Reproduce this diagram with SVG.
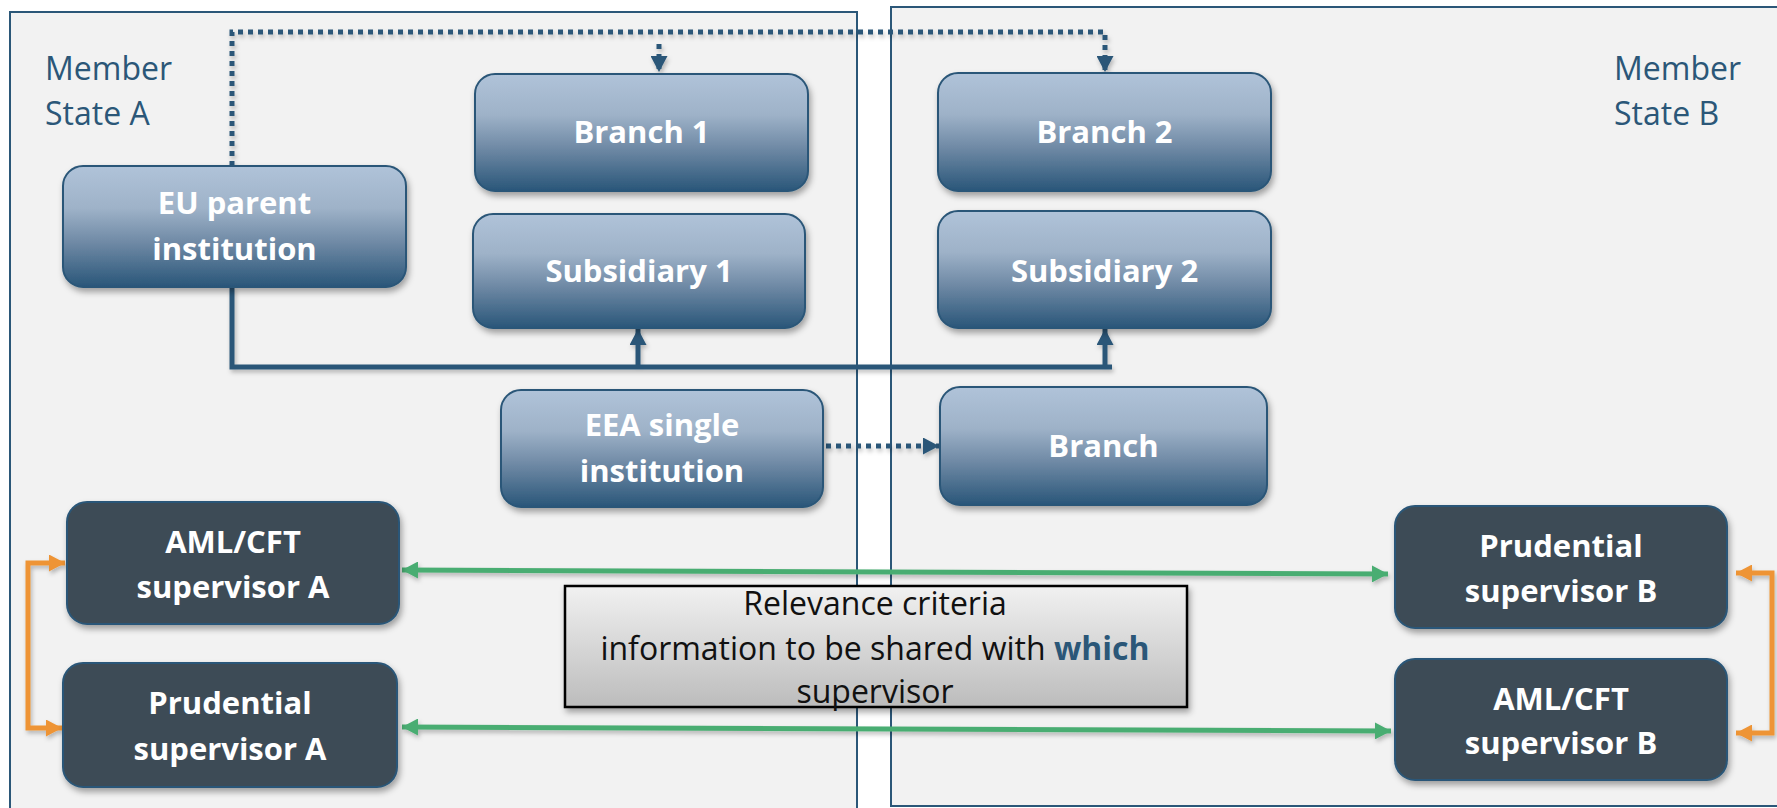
<svg xmlns="http://www.w3.org/2000/svg" width="1777" height="808" viewBox="0 0 1777 808">
  <defs>
    <linearGradient id="gBlue" x1="0" y1="0" x2="0" y2="1">
      <stop offset="0" stop-color="#b0c3d9"/>
      <stop offset="0.35" stop-color="#9eb2c8"/>
      <stop offset="0.65" stop-color="#6c87a3"/>
      <stop offset="1" stop-color="#295679"/>
    </linearGradient>
    <linearGradient id="gGray" x1="0" y1="0" x2="0" y2="1">
      <stop offset="0" stop-color="#f1f1f1"/>
      <stop offset="1" stop-color="#bcbcbc"/>
    </linearGradient>
    <filter id="sh" x="-10%" y="-10%" width="125%" height="130%">
      <feDropShadow dx="2" dy="4" stdDeviation="3" flood-color="#000" flood-opacity="0.35"/>
    </filter>
    <filter id="lsh" filterUnits="userSpaceOnUse" x="0" y="0" width="1777" height="808">
      <feDropShadow dx="1.5" dy="3" stdDeviation="2" flood-color="#000" flood-opacity="0.25"/>
    </filter>
    <marker id="aBlue" markerUnits="userSpaceOnUse" markerWidth="17" markerHeight="17" refX="16" refY="8.5" orient="auto">
      <path d="M0,0 L16,8.5 L0,17 z" fill="#2b5778"/>
    </marker>
    <marker id="aGreen" markerUnits="userSpaceOnUse" markerWidth="17" markerHeight="17" refX="16" refY="8.5" orient="auto-start-reverse">
      <path d="M0,0 L16,8.5 L0,17 z" fill="#4aad72"/>
    </marker>
    <marker id="aOrange" markerUnits="userSpaceOnUse" markerWidth="17" markerHeight="17" refX="16" refY="8.5" orient="auto-start-reverse">
      <path d="M0,0 L16,8.5 L0,17 z" fill="#ee9434"/>
    </marker>
    <style>
      .panel { fill: #f2f2f2; stroke: #2b5778; stroke-width: 2; }
      .state { font-family: "Open Sans", "Liberation Sans", sans-serif; font-size: 32px; fill: #2b5778; }
      .nb { fill: url(#gBlue); stroke: #2b5778; stroke-width: 2; filter: url(#sh); }
      .nd { fill: #3d4c56; stroke: #2b5778; stroke-width: 2; filter: url(#sh); }
      .nt { font-family: "Open Sans", "Liberation Sans", sans-serif; font-size: 31px; font-weight: bold; fill: #ffffff; text-anchor: middle; }
      .box { fill: url(#gGray); stroke: #000; stroke-width: 2.5; filter: url(#sh); }
      .bt { font-family: "Open Sans", "Liberation Sans", sans-serif; font-size: 32px; fill: #111; text-anchor: middle; }
      .hl { font-weight: bold; fill: #2b5778; }
      .solid { fill: none; stroke: #2b5778; stroke-width: 5; }
      .dot { fill: none; stroke: #2b5778; stroke-width: 5; stroke-dasharray: 5 5; }
      .green { fill: none; stroke: #4aad72; stroke-width: 5; }
      .orange { fill: none; stroke: #ee9434; stroke-width: 5; }
    </style>
  </defs>

  <rect x="0" y="0" width="1777" height="808" fill="#ffffff"/>

  <g id="member-state-a">
    <rect class="panel" x="10" y="12" width="847" height="830"/>
    <text class="state" x="45" y="80">Member</text>
    <text class="state" x="45" y="125">State A</text>
  </g>
  <g id="member-state-b">
    <rect class="panel" x="891" y="7" width="920" height="799"/>
    <text class="state" x="1614" y="80">Member</text>
    <text class="state" x="1614" y="125">State B</text>
  </g>

  <g id="connectors" filter="url(#lsh)">
    <path class="dot" d="M232,166 V32 H1105 V72" marker-end="url(#aBlue)"/>
    <path class="dot" d="M659,44 V72" marker-end="url(#aBlue)"/>
    <path class="solid" d="M232,287 V367 H1112"/>
    <path class="solid" d="M638,367 V329" marker-end="url(#aBlue)"/>
    <path class="solid" d="M1105,367 V329" marker-end="url(#aBlue)"/>
    <path class="dot" d="M826,446 H939" marker-end="url(#aBlue)"/>
    <path class="green" d="M402,570 L1388,574" marker-start="url(#aGreen)" marker-end="url(#aGreen)"/>
    <path class="green" d="M402,727 L1391,731" marker-start="url(#aGreen)" marker-end="url(#aGreen)"/>
    <path class="orange" d="M65,563 H28 V728 H62" marker-start="url(#aOrange)" marker-end="url(#aOrange)"/>
    <path class="orange" d="M1736,573 H1772 V733 H1736" marker-start="url(#aOrange)" marker-end="url(#aOrange)"/>
  </g>

  <g id="eu-parent">
    <rect class="nb" x="63" y="166" width="343" height="121" rx="20"/>
    <text class="nt" x="234.5" y="214">EU parent</text>
    <text class="nt" x="234.5" y="260">institution</text>
  </g>
  <g id="branch-1">
    <rect class="nb" x="475" y="74" width="333" height="117" rx="20"/>
    <text class="nt" x="641.5" y="143">Branch 1</text>
  </g>
  <g id="subsidiary-1">
    <rect class="nb" x="473" y="214" width="332" height="114" rx="20"/>
    <text class="nt" x="639" y="282">Subsidiary 1</text>
  </g>
  <g id="branch-2">
    <rect class="nb" x="938" y="73" width="333" height="118" rx="20"/>
    <text class="nt" x="1104.5" y="143">Branch 2</text>
  </g>
  <g id="subsidiary-2">
    <rect class="nb" x="938" y="211" width="333" height="117" rx="20"/>
    <text class="nt" x="1104.5" y="282">Subsidiary 2</text>
  </g>
  <g id="eea-single">
    <rect class="nb" x="501" y="390" width="322" height="117" rx="20"/>
    <text class="nt" x="662" y="436">EEA single</text>
    <text class="nt" x="662" y="482">institution</text>
  </g>
  <g id="branch">
    <rect class="nb" x="940" y="387" width="327" height="118" rx="20"/>
    <text class="nt" x="1103.5" y="457">Branch</text>
  </g>

  <g id="aml-a">
    <rect class="nd" x="67" y="502" width="332" height="122" rx="20"/>
    <text class="nt" x="233" y="553">AML/CFT</text>
    <text class="nt" x="233" y="598">supervisor A</text>
  </g>
  <g id="prudential-a">
    <rect class="nd" x="63" y="663" width="334" height="124" rx="20"/>
    <text class="nt" x="230" y="714">Prudential</text>
    <text class="nt" x="230" y="760">supervisor A</text>
  </g>
  <g id="prudential-b">
    <rect class="nd" x="1395" y="506" width="332" height="122" rx="20"/>
    <text class="nt" x="1561" y="557">Prudential</text>
    <text class="nt" x="1561" y="602">supervisor B</text>
  </g>
  <g id="aml-b">
    <rect class="nd" x="1395" y="659" width="332" height="121" rx="20"/>
    <text class="nt" x="1561" y="710">AML/CFT</text>
    <text class="nt" x="1561" y="754">supervisor B</text>
  </g>

  <g id="relevance">
    <rect class="box" x="565" y="586" width="622" height="121"/>
    <text class="bt" x="875" y="615">Relevance criteria</text>
    <text class="bt" x="875" y="660">information to be shared with <tspan class="hl">which</tspan></text>
    <text class="bt" x="875" y="703">supervisor</text>
  </g>
</svg>
